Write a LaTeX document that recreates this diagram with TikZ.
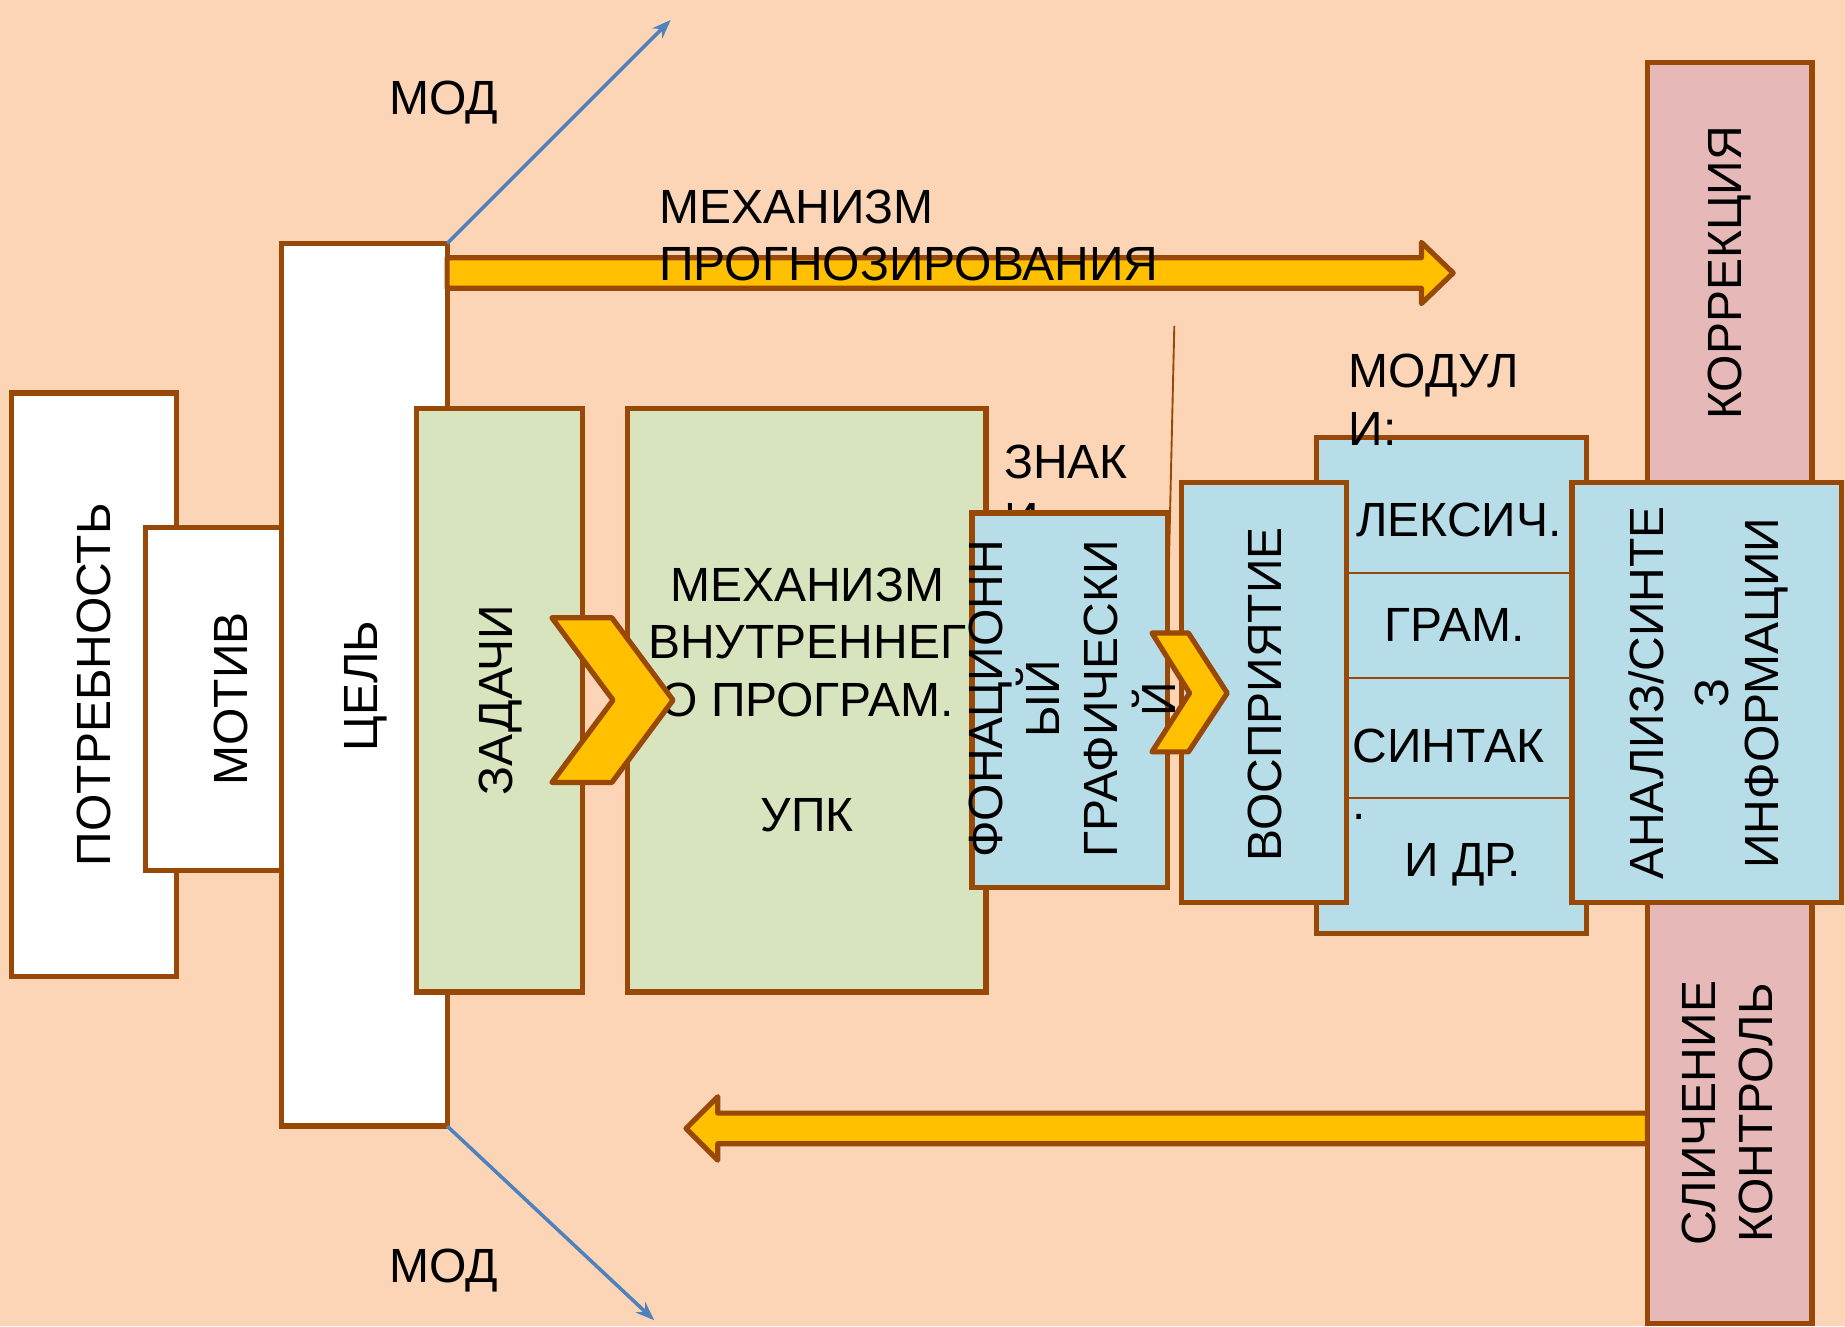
\documentclass[tikz,border=0pt]{standalone}
\usepackage{fontspec}
\setmainfont{Liberation Sans}
\usetikzlibrary{arrows.meta}
\definecolor{bgpeach}{HTML}{FBD5B5}
\definecolor{brd}{HTML}{984807}
\definecolor{grn}{HTML}{D7E4BD}
\definecolor{blu}{HTML}{B7DEE8}
\definecolor{pnk}{HTML}{E6B9B8}
\definecolor{ylw}{HTML}{FFC000}
\definecolor{lnblue}{HTML}{4F81BD}
\begin{document}
\begin{tikzpicture}[x=0.5pt,y=-0.5pt,
  box/.style={draw=brd,line width=2.2pt,rectangle,inner sep=0pt,outer sep=0pt},
  lbl/.style={inner sep=0pt,font=\fontsize{20.4pt}{24.5pt}\selectfont,align=center},
  vlbl/.style={lbl,rotate=90},
  blockarrow/.style={draw=brd,fill=ylw,line width=2.2pt,line join=round},
  chev/.style={draw=brd,fill=ylw,line width=2.2pt,line join=round},
  modline/.style={draw=lnblue,line width=1.5pt,-{Stealth[length=8pt,width=6pt]}},
  sepline/.style={draw=brd,line width=0.7pt}]
% background
\fill[bgpeach] (0,0) rectangle (1568,1127);
\useasboundingbox (0,0) rectangle (1568,1127);

% left boxes
\node[box,fill=white,minimum width=70pt,minimum height=248pt] (potr) at (80,582) {};
\node[vlbl] (potrT) at (80,582) {ПОТРЕБНОСТЬ};
\node[box,fill=white,minimum width=58pt,minimum height=146pt] (motiv) at (182,594) {};
\node[vlbl] (motivT) at (196,594) {МОТИВ};
\node[box,fill=white,minimum width=70.5pt,minimum height=375pt] (tsel) at (309.5,582) {};
\node[vlbl] (tselT) at (311,583) {ЦЕЛЬ};
\node[box,fill=grn,minimum width=70.5pt,minimum height=248pt] (zad) at (424.5,595) {};
\node[vlbl] (zadT) at (425,595) {ЗАДАЧИ};

% blue MOD arrows
\coordinate (modtopend) at (570,17);
\coordinate (modbotend) at (556,1122);
\draw[modline] (tsel.north east) -- (modtopend);
\draw[modline] (tsel.south east) -- (modbotend);
\node[lbl] (modtop) at (377,87) {МОД};
\node[lbl] (modbot) at (377,1080) {МОД};

% top block arrow
\draw[blockarrow] (380,219) -- (1208,219) -- (1208,206) -- (1235,232) -- (1208,258) -- (1208,245) -- (380,245) -- cycle;
\node[lbl,align=left,anchor=west] (progT) at (560,200) {МЕХАНИЗМ\\ПРОГНОЗИРОВАНИЯ};

% inner programming box
\node[box,fill=grn,minimum width=152.5pt,minimum height=248pt] (mvp) at (685.5,595) {};
\node[lbl] (mvpT) at (686,595) {МЕХАНИЗМ\\ВНУТРЕННЕГ\\О ПРОГРАМ.\\ \\УПК};

% chevron 1
\draw[chev] (469,525) -- (520,525) -- (572,595) -- (520,665) -- (469,665) -- (521,595) -- cycle;

% ZNAKI text (partly hidden)
\node[lbl,align=left,anchor=west] (znakT) at (853,417) {ЗНАК\\И};

% phonation / graphic box
\node[box,fill=blu,minimum width=83pt,minimum height=159pt] (fon) at (909,595) {};
\node[vlbl] (fonT) at (911,594) {ФОНАЦИОНН\\ЫЙ\\ГРАФИЧЕСКИ\\Й};

% thin line
\coordinate (thinA) at (998,277);
\coordinate (thinB) at (992,540);
\draw[brd,line width=0.8pt] (thinA) -- (thinB);

% modules box
\node[box,fill=blu,minimum width=114.5pt,minimum height=210.5pt] (mods) at (1233.5,582.5) {};
\draw[sepline] (1144,487) -- (1336,487);
\draw[sepline] (1144,576) -- (1336,576);
\draw[sepline] (1144,678) -- (1336,678);
\node[lbl] (lexT) at (1240,442) {ЛЕКСИЧ.};
\node[lbl] (gramT) at (1236,531) {ГРАМ.};
\node[lbl,align=left,anchor=west] (syntT) at (1149,658) {СИНТАК\\.};
\node[lbl] (idrT) at (1243,735) {И ДР.};

% perception box
\node[box,fill=blu,minimum width=70pt,minimum height=178.5pt] (vospr) at (1074,588.5) {};
\node[vlbl] (vosprT) at (1075,590) {ВОСПРИЯТИЕ};

% chevron 2
\draw[chev] (979,538) -- (1010,538) -- (1043,589) -- (1010,639) -- (979,639) -- (1011,589) -- cycle;

% modules title
\node[lbl,align=left,anchor=west] (modulT) at (1146,340) {МОДУЛ\\И:};

% bottom block arrow
\draw[blockarrow] (1400,946) -- (610,946) -- (610,932) -- (583,959) -- (610,986) -- (610,972) -- (1400,972) -- cycle;

% pink boxes
\node[box,fill=pnk,minimum width=70pt,minimum height=179.5pt] (korr) at (1470,232.5) {};
\node[vlbl] (korrT) at (1470,232) {КОРРЕКЦИЯ};
\node[box,fill=pnk,minimum width=70pt,minimum height=179pt] (slich) at (1470,946) {};
\node[vlbl] (slichT) at (1468,946) {СЛИЧЕНИЕ\\КОНТРОЛЬ};

% analysis box
\node[box,fill=blu,minimum width=114.5pt,minimum height=178.5pt] (anal) at (1450.5,588.5) {};
\node[vlbl] (analT) at (1452,589) {АНАЛИЗ/СИНТЕ\\[3pt]З\\[-3pt]ИНФОРМАЦИИ};
\end{tikzpicture}
\end{document}
